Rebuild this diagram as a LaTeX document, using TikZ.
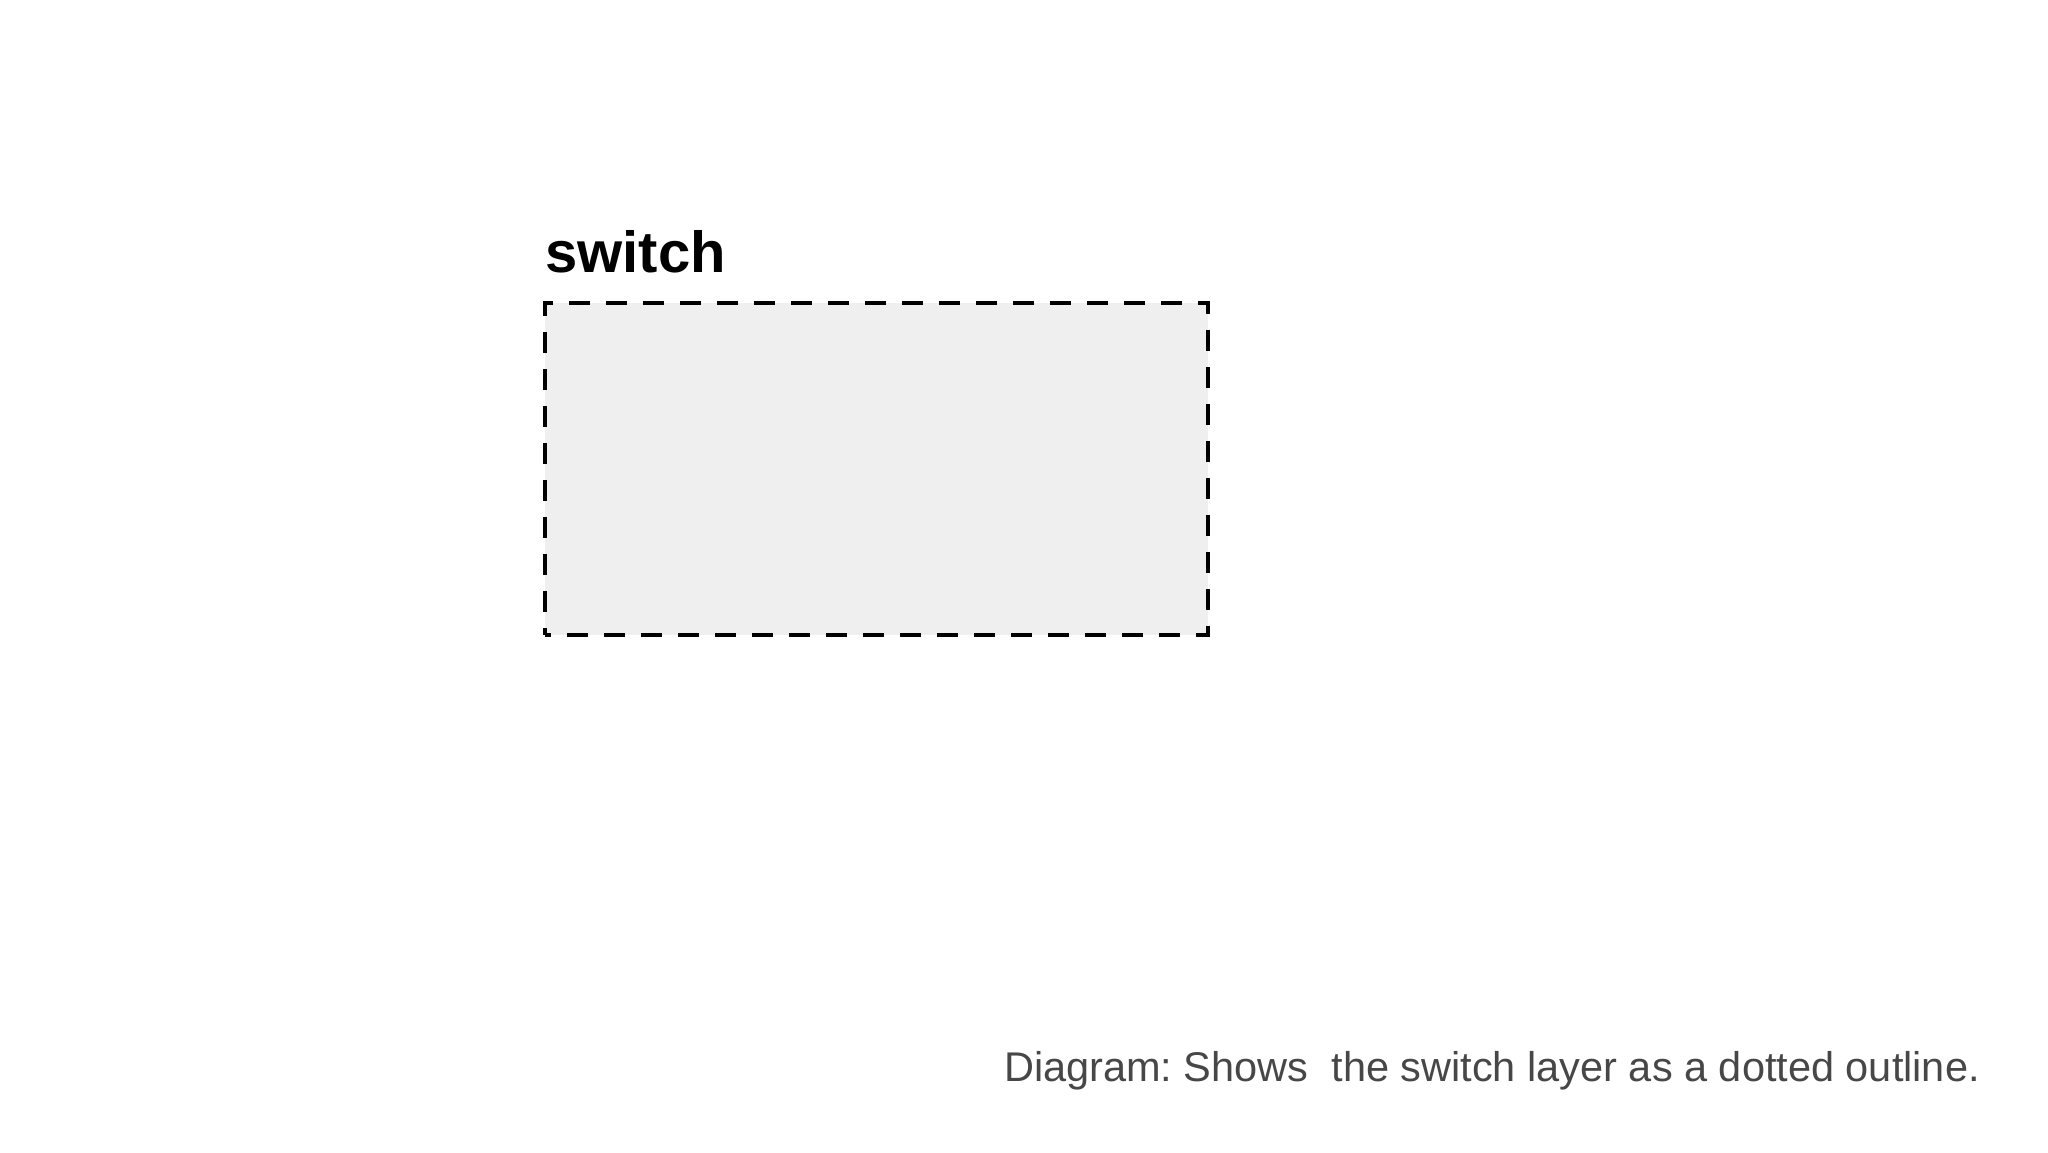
\documentclass[tikz,border=0pt]{standalone}
\usepackage{fontspec}
\setmainfont{Liberation Sans}
\definecolor{boxfill}{HTML}{EFEFEF}
\definecolor{captiongray}{HTML}{474747}
\tikzset{
  layerbox/.style={draw=black, fill=boxfill, line width=3.3pt, dash pattern=on 21pt off 16pt, dash phase=15pt, minimum width=663pt, minimum height=332pt, inner sep=0pt, outer sep=0pt},
  titletext/.style={font=\fontsize{58}{64}\selectfont\bfseries, text=black, inner sep=0pt},
  captiontext/.style={font=\fontsize{41.5}{46}\selectfont\frenchspacing, text=captiongray, inner sep=0pt}
}
\begin{document}
\begin{tikzpicture}[x=1pt,y=1pt]
\useasboundingbox (0,0) rectangle (2048,1152);
\node[layerbox] (switchbox) at (876.5,683) {};
\node[titletext, anchor=base west] (switchtitle) at (545,879) {switch};
\node[captiontext, anchor=base east] (caption) at (1980,71) {Diagram: Shows\ \ the switch layer as a dotted outline.};
\end{tikzpicture}
\end{document}
